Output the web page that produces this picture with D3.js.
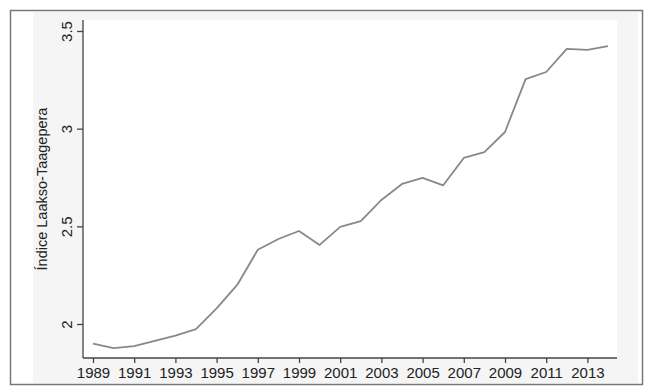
<html lang='en'>
<head>
<meta charset='utf-8'>
<title>Indice Laakso-Taagepera</title>
<script src="https://d3js.org/d3.v7.min.js"></script>
<style>
  body { margin: 0; background: #fff; }
  text { font-family: "Liberation Sans", Arial, sans-serif; }
</style>
</head>
<body>
<script>
var width = 650;
var height = 392;

// data
var years = [1989, 1990, 1991, 1992, 1993, 1994, 1995, 1996, 1997, 1998, 1999, 2000, 2001,
             2002, 2003, 2004, 2005, 2006, 2007, 2008, 2009, 2010, 2011, 2012, 2013, 2014];
var values = [1.90, 1.877, 1.887, 1.913, 1.94, 1.974, 2.08, 2.20, 2.38, 2.435, 2.476, 2.405, 2.497,
              2.527, 2.635, 2.717, 2.748, 2.71, 2.85, 2.88, 2.983, 3.254, 3.29, 3.408, 3.403, 3.423];
var xTicks = [1989, 1991, 1993, 1995, 1997, 1999, 2001, 2003, 2005, 2007, 2009, 2011, 2013];
var yTicks = [2, 2.5, 3, 3.5];

var svg = d3.select('body').append('svg')
    .attr('width', width)
    .attr('height', height);

// graph region + outer frame
svg.append('rect').attr('x', 33).attr('y', 12).attr('width', 605).attr('height', 371)
   .attr('fill', '#f5f5f5');
svg.append('rect').attr('x', 10.5).attr('y', 10.5).attr('width', 632).attr('height', 374)
   .attr('fill', 'none').attr('stroke', '#777').attr('stroke-width', 1.5);

// plot region (don't call it "top", that one is taken by window)
var plotL = 83, plotR = 617, plotT = 20, plotB = 358;
svg.append('rect').attr('x', plotL).attr('y', plotT).attr('width', plotR - plotL).attr('height', plotB - plotT)
   .attr('fill', '#fff');

var x = d3.scaleLinear().domain([1989, 2014]).range([93, 608]);
var y = d3.scaleLinear().domain([2, 3.5]).range([324, 31]);

// axes
var xAxis = svg.append('g')
    .attr('transform', 'translate(0,' + plotB + ')')
    .call(d3.axisBottom(x).tickValues(xTicks).tickFormat(d3.format('d')).tickSize(5).tickPadding(4));
var yAxis = svg.append('g')
    .attr('transform', 'translate(' + plotL + ',0)')
    .call(d3.axisLeft(y).tickValues(yTicks).tickFormat(function(d) { return d; }).tickSize(6));

[xAxis, yAxis].forEach(function(g) {
    g.select('.domain').remove();
    g.selectAll('line').attr('stroke', '#444').attr('stroke-width', 1.3);
    g.selectAll('text').attr('fill', '#222').style('font-size', '15px');
});

// rotated y tick labels, centred on the tick
yAxis.selectAll('.tick text')
    .attr('text-anchor', 'middle')
    .attr('x', -16).attr('y', 0).attr('dy', '0.35em')
    .attr('transform', 'rotate(-90,-16,0)');

svg.append('line').attr('x1', plotL).attr('x2', plotL).attr('y1', plotT).attr('y2', plotB)
   .attr('stroke', '#444').attr('stroke-width', 1.3);
svg.append('line').attr('x1', plotL).attr('x2', plotR).attr('y1', plotB).attr('y2', plotB)
   .attr('stroke', '#444').attr('stroke-width', 1.3);

// y title
svg.append('text')
   .attr('transform', 'translate(47,189) rotate(-90)')
   .attr('text-anchor', 'middle')
   .attr('fill', '#222')
   .style('font-size', '14.5px')
   .text('Índice Laakso-Taagepera');

// line
var line = d3.line()
    .x(function(d, i) { return x(years[i]); })
    .y(function(d) { return y(d); });

svg.append('path')
   .datum(values)
   .attr('d', line)
   .attr('fill', 'none')
   .attr('stroke', '#888')
   .attr('stroke-width', 1.8)
   .attr('stroke-linejoin', 'round');
</script>
</body>
</html>
